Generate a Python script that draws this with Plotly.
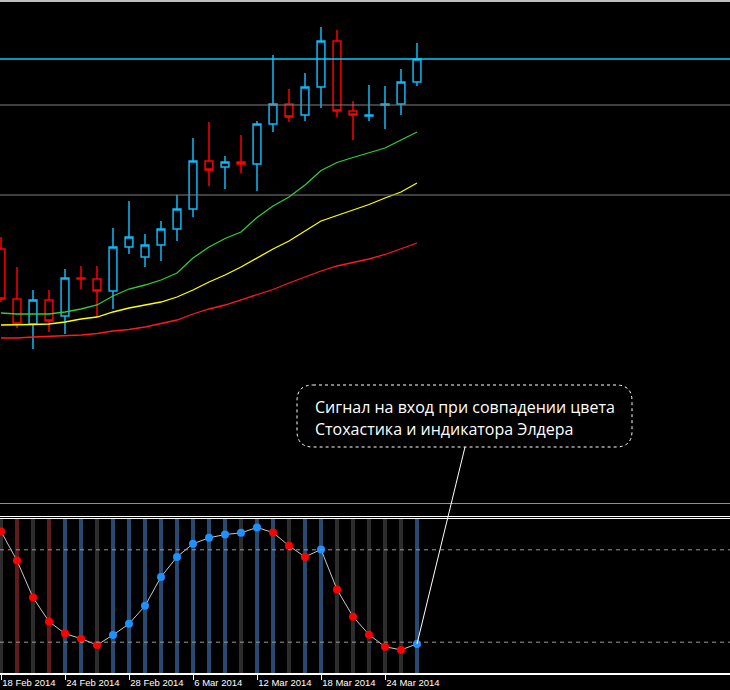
import plotly.graph_objects as go

# ---------------- data ----------------
dates = ["18 Feb 2014", "24 Feb 2014", "28 Feb 2014", "6 Mar 2014",
         "12 Mar 2014", "18 Mar 2014", "24 Mar 2014"]
date_idx = [0, 4, 8, 12, 16, 20, 24]

opens = [1.3741, 1.3691, 1.3666, 1.3690, 1.3674, 1.3712, 1.3711, 1.3699, 1.3743,
         1.3733, 1.3745, 1.3761, 1.3781, 1.3829, 1.3823, 1.3828, 1.3826, 1.3866,
         1.3886, 1.3875, 1.3903, 1.3949, 1.3879, 1.3874, 1.3885, 1.3886, 1.3908]
highs = [1.3753, 1.3723, 1.3700, 1.3700, 1.3721, 1.3724, 1.3724, 1.3762, 1.3789,
         1.3756, 1.3769, 1.3795, 1.3852, 1.3868, 1.3834, 1.3855, 1.3869, 1.3935,
         1.3901, 1.3917, 1.3963, 1.3960, 1.3889, 1.3905, 1.3904, 1.3921, 1.3947]
lows = [1.3688, 1.3662, 1.3641, 1.3658, 1.3656, 1.3701, 1.3673, 1.3681, 1.3736,
        1.3723, 1.3729, 1.3749, 1.3773, 1.3804, 1.3801, 1.3817, 1.3799, 1.3858,
        1.3868, 1.3869, 1.3882, 1.3873, 1.3850, 1.3869, 1.3861, 1.3875, 1.3904]
closes = [1.3691, 1.3666, 1.3690, 1.3669, 1.3712, 1.3711, 1.3699, 1.3743, 1.3753,
          1.3745, 1.3761, 1.3781, 1.3829, 1.3820, 1.3828, 1.3826, 1.3866, 1.3886,
          1.3873, 1.3903, 1.3949, 1.3879, 1.3875, 1.3875, 1.3886, 1.3908, 1.3931]

ma_green = [1.3677, 1.3676, 1.3676, 1.3676, 1.3678, 1.3681, 1.3685, 1.3694, 1.3701,
            1.3705, 1.3710, 1.3717, 1.3732, 1.3743, 1.37515, 1.3758, 1.37725, 1.3784,
            1.3793, 1.3805, 1.38195, 1.38275, 1.38325, 1.3837, 1.3842, 1.3850, 1.3858]
ma_yellow = [1.3665, 1.3665, 1.36655, 1.3666, 1.3668, 1.3671, 1.3673, 1.3678, 1.3682,
             1.3685, 1.3688, 1.3693, 1.3700, 1.3708, 1.3715, 1.3723, 1.3732, 1.3741,
             1.3749, 1.3759, 1.3769, 1.37745, 1.3780, 1.37855, 1.3792, 1.3798, 1.3807]
ma_red = [1.3652, 1.3652, 1.3653, 1.36535, 1.3654, 1.3655, 1.36565, 1.3659, 1.36605,
          1.3663, 1.36665, 1.3670, 1.3676, 1.3681, 1.3685, 1.3690, 1.36955, 1.37005,
          1.3707, 1.3713, 1.3719, 1.3724, 1.37275, 1.3731, 1.37355, 1.3741, 1.3747]

price_levels = [1.3885, 1.3795]
bid_price = 1.3931

stoch = [91.9, 73.0, 49.0, 33.4, 25.6, 22.3, 18.2, 24.7, 31.9, 43.6, 62.4, 75.4,
         83.9, 87.8, 89.9, 91.0, 94.5, 91.2, 82.6, 75.4, 80.2, 54.2, 36.6, 24.9,
         17.1, 15.0, 18.9]
stoch_up = [0, 0, 0, 0, 0, 0, 0, 1, 1, 1, 1, 1, 1, 1, 1, 1, 1, 0, 0, 0, 1, 0, 0, 0, 0, 0, 1]
stoch_levels = [80, 20]

# Elder impulse: 1 = up (blue), -1 = down (red), 0 = neutral (gray)
impulse = [0, -1, 0, -1, 1, 1, 0, 1, 1, 1, 1, 1, 1, 1, 1, 0, 1, 1, 0, 1, 1, 0, 0, 0, 0, 0, 1]

callout_lines = ["Сигнал на вход при совпадении цвета",
                 "Стохастика и индикатора Элдера"]

# ---------------- geometry ----------------
W, H = 730, 690
XR = [-0.0625, 45.5625]
Y1R = [1.3485, 1.3990]
Y1D = [(H - 505) / H, 1.0]
Y2R = [0, 100]
Y2D = [17 / H, 171 / H]

def px(x):
    return x / W

def py(y):
    return 1 - y / H

def data_to_paper_x(v):
    return (v - XR[0]) / (XR[1] - XR[0])

def y2_to_paper(v):
    return Y2D[0] + (v - Y2R[0]) / (Y2R[1] - Y2R[0]) * (Y2D[1] - Y2D[0])

n = len(opens)
xs = list(range(n))

fig = go.Figure()

# candles
fig.add_trace(go.Candlestick(
    x=xs, open=opens, high=highs, low=lows, close=closes,
    increasing=dict(line=dict(color="#10b8f8", width=1.5), fillcolor="black"),
    decreasing=dict(line=dict(color="#ff0000", width=1.5), fillcolor="black"),
    xaxis="x", yaxis="y", hoverinfo="skip", showlegend=False,
))

for ma, col in [(ma_red, "#ff1a1a"), (ma_yellow, "#ffff00"), (ma_green, "#33cc33")]:
    fig.add_trace(go.Scatter(x=xs, y=ma, mode="lines", line=dict(color=col, width=1.3),
                             xaxis="x", yaxis="y", hoverinfo="skip", showlegend=False))

# Elder impulse columns
imp_col = {1: "#284a70", -1: "#5e1b1b", 0: "#2d2d2d"}
fig.add_trace(go.Bar(
    x=xs, y=[100] * n, base=0, width=0.25,
    marker=dict(color=[imp_col[v] for v in impulse], line=dict(width=0)),
    xaxis="x", yaxis="y2", hoverinfo="skip", showlegend=False,
))

# stochastic line + dots
fig.add_trace(go.Scatter(
    x=xs, y=stoch, mode="lines+markers",
    line=dict(color="#c8c8c8", width=1),
    marker=dict(size=8, color=["#1e90ff" if u else "#ff0000" for u in stoch_up],
                line=dict(width=0)),
    xaxis="x", yaxis="y2", hoverinfo="skip", showlegend=False, cliponaxis=False,
))

shapes = []
# top frame line
shapes.append(dict(type="line", xref="paper", yref="paper", x0=0, x1=1,
                   y0=py(1), y1=py(1), line=dict(color="white", width=1.5)))
# bid line
shapes.append(dict(type="line", xref="paper", yref="y", x0=0, x1=1,
                   y0=bid_price, y1=bid_price, line=dict(color="#00d0ff", width=1.3)))
for lv in price_levels:
    shapes.append(dict(type="line", xref="paper", yref="y", x0=0, x1=1,
                       y0=lv, y1=lv, line=dict(color="#808080", width=1)))
# panel separators
shapes.append(dict(type="line", xref="paper", yref="paper", x0=0, x1=1,
                   y0=py(503.5), y1=py(503.5), line=dict(color="#909090", width=1)))
for yy in (516.5, 518.5):
    shapes.append(dict(type="line", xref="paper", yref="paper", x0=0, x1=1,
                       y0=py(yy), y1=py(yy), line=dict(color="white", width=1)))
# stochastic levels
for lv in stoch_levels:
    shapes.append(dict(type="line", xref="paper", yref="y2", x0=0, x1=1,
                       y0=lv, y1=lv, line=dict(color="#9a9a9a", width=1, dash="4px,4px")))

# callout bubble
L, R, T, B, r = 297, 632, 385, 447, 16
path = (f"M {px(L + r)} {py(T)} L {px(R - r)} {py(T)} Q {px(R)} {py(T)} {px(R)} {py(T + r)} "
        f"L {px(R)} {py(B - r)} Q {px(R)} {py(B)} {px(R - r)} {py(B)} "
        f"L {px(L + r)} {py(B)} Q {px(L)} {py(B)} {px(L)} {py(B - r)} "
        f"L {px(L)} {py(T + r)} Q {px(L)} {py(T)} {px(L + r)} {py(T)} Z")
shapes.append(dict(type="path", xref="paper", yref="paper", path=path,
                   fillcolor="black", line=dict(color="white", width=1, dash="dot")))
# pointer from bubble to last stochastic point
shapes.append(dict(type="line", xref="paper", yref="paper",
                   x0=px(465), y0=py(447),
                   x1=data_to_paper_x(n - 1), y1=y2_to_paper(stoch[-1]),
                   line=dict(color="white", width=1)))

annotations = []
for i, line in enumerate(callout_lines):
    annotations.append(dict(xref="paper", yref="paper", x=px(313), y=py(406.5 + 22.6 * i),
                            xanchor="left", yanchor="middle", align="left",
                            text=line, showarrow=False,
                            font=dict(family="Open Sans", size=16, color="white")))

fig.update_layout(
    width=W, height=H, margin=dict(l=0, r=0, t=0, b=0, autoexpand=False),
    paper_bgcolor="black", plot_bgcolor="black",
    showlegend=False, bargap=0,
    shapes=shapes, annotations=annotations,
    xaxis=dict(range=XR, anchor="y2", showgrid=False, zeroline=False,
               showline=True, linecolor="white", linewidth=1.5,
               ticks="outside", ticklen=5, tickcolor="white", tickwidth=1,
               tickvals=date_idx, ticktext=dates, tickangle=0, automargin=False,
               ticklabelposition="outside right",
               tickfont=dict(family="Liberation Sans", size=9.5, color="white"),
               rangeslider=dict(visible=False), fixedrange=True),
    yaxis=dict(domain=Y1D, range=Y1R, visible=False, showgrid=False, zeroline=False,
               automargin=False),
    yaxis2=dict(domain=Y2D, range=Y2R, visible=False, showgrid=False, zeroline=False,
                automargin=False),
)

fig.write_html("out.html", config={"displayModeBar": False})
